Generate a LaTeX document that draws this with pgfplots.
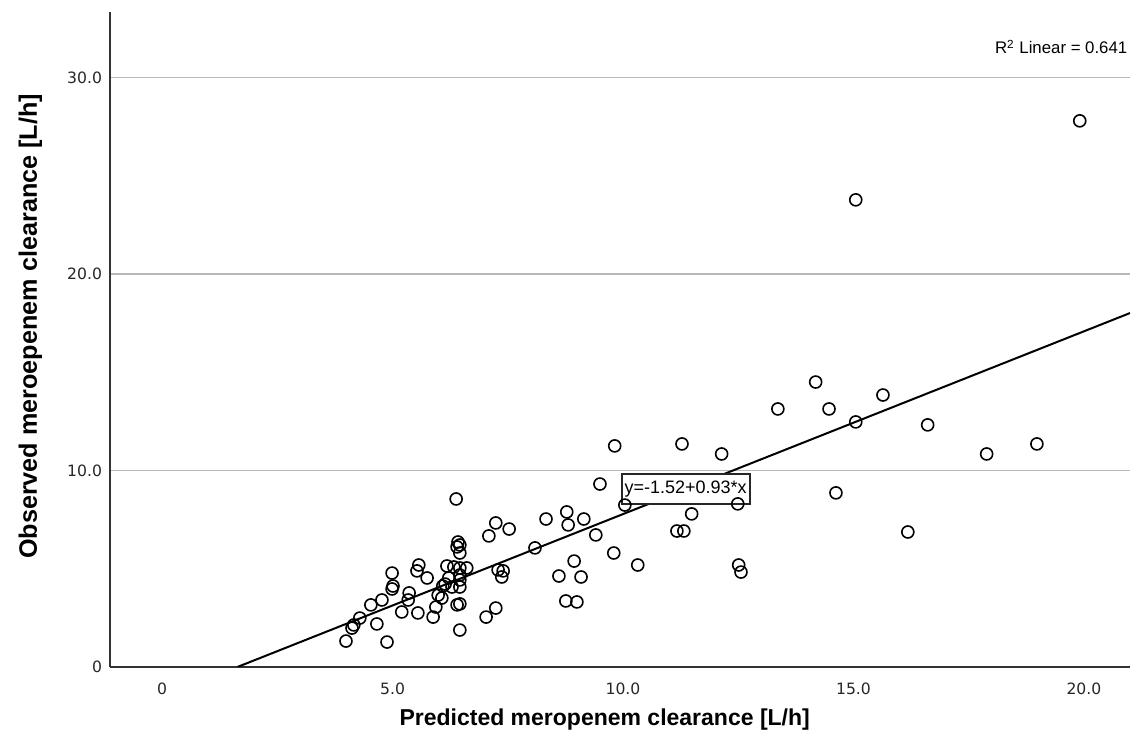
\documentclass[border=0pt]{standalone}
\usepackage{fontspec}
\setmainfont{Liberation Sans}
\newfontfamily\dejavu{DejaVu Sans}
\usepackage{pgfplots}
\pgfplotsset{compat=1.18}
\begin{document}
\begin{tikzpicture}[x=1pt,y=1pt]
\useasboundingbox (0,0) rectangle (568.5,372);
\begin{axis}[
  at={(55pt,38.5pt)}, anchor=south west,
  scale only axis, width=510pt, height=327.5pt,
  xmin=-1.13, xmax=21, ymin=0, ymax=33.33,
  axis lines*=left,
  axis line style={-, draw=black!80, line width=0.8pt},
  xtick={0,5,10,15,20}, xticklabels={0,5.0,10.0,15.0,20.0},
  ytick={0,10,20,30}, yticklabels={0,10.0,20.0,30.0},
  major tick length=0pt,
  ymajorgrids,
  grid style={draw=black!28, line width=0.8pt},
  ticklabel style={font=\dejavu\fontsize{7.8}{9}\selectfont, text=black!85},
  xticklabel style={anchor=north, yshift=-4.5pt},
  yticklabel style={anchor=east, xshift=-0.5pt},
  xlabel={Predicted meropenem clearance [L/h]},
  ylabel={Observed meroepenem clearance [L/h]},
  xlabel style={at={(axis description cs:0.485,-0.08)}, anchor=center, font=\bfseries\fontsize{11.5}{13}\selectfont},
  ylabel style={at={(axis description cs:-0.078,0.52)}, anchor=center, rotate=0, font=\bfseries\fontsize{12.6}{14}\selectfont},
]
\addplot[no marks, black, line width=1pt] coordinates {(1.634,0) (21,18.01)};
\addplot[only marks, mark=o, mark size=3pt, mark options={line width=0.8pt, black}] coordinates {
(3.99,1.32) (4.12,1.98) (4.16,2.14) (4.29,2.49) (4.53,3.16) (4.66,2.19)
(4.77,3.41) (4.88,1.27) (4.99,4.78) (4.99,3.97) (5.01,4.12) (5.20,2.80)
(5.34,3.41) (5.36,3.77) (5.55,2.75) (5.53,4.89) (5.57,5.19) (5.75,4.53)
(5.88,2.54) (5.94,3.05) (5.99,3.66) (6.07,3.51) (6.09,4.12) (6.14,4.22)
(6.18,5.14) (6.22,4.53) (6.29,4.07) (6.33,5.09) (6.38,8.55) (6.40,3.16)
(6.46,3.21) (6.46,1.88) (6.42,6.36) (6.46,6.21) (6.40,6.11) (6.46,5.80)
(6.46,5.04) (6.61,5.04) (6.46,4.68) (6.46,4.43) (6.46,4.07) (7.03,2.54)
(7.09,6.67) (7.24,7.33) (7.24,3.00) (7.29,4.94) (7.40,4.89) (7.37,4.58)
(7.53,7.02) (8.09,6.06) (8.33,7.53) (8.61,4.63) (8.76,3.36) (8.78,7.89)
(8.81,7.23) (8.94,5.39) (9.00,3.31) (9.09,4.58) (9.15,7.53) (9.41,6.72)
(9.50,9.31) (9.80,5.80) (9.82,11.25) (10.04,8.24) (10.32,5.19) (11.17,6.92)
(11.32,6.92) (11.28,11.35) (11.49,7.79) (12.14,10.84) (12.49,8.30) (12.51,5.19)
(12.56,4.83) (13.36,13.13) (14.18,14.50) (14.47,13.13) (15.64,13.84) (15.05,12.47)
(16.61,12.32) (17.89,10.84) (18.98,11.35) (14.62,8.86) (16.18,6.87) (15.05,23.77)
(19.91,27.79)
};
\node[draw=black!85, fill=white, line width=0.9pt, inner xsep=1.5pt, inner ysep=3.5pt, font=\fontsize{9}{10}\selectfont] at (axis cs:11.36,9.06) {y=-1.52+0.93*x};
\node[anchor=east, inner sep=0pt, font=\fontsize{8.4}{10}\selectfont] at (axis cs:20.95,31.55) {R\textsuperscript{2} Linear = 0.641};
\end{axis}
\end{tikzpicture}
\end{document}
